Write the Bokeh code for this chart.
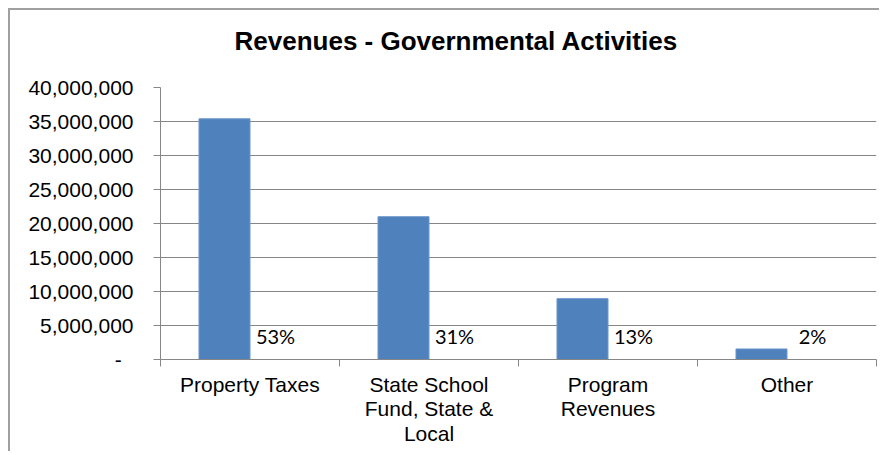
from bokeh.plotting import figure
from bokeh.models import Range1d, FixedTicker, NumeralTickFormatter, ColumnDataSource, Title
from bokeh.core.properties import value
from bokeh.embed import file_html
from bokeh.resources import INLINE

# ---- data ----
categories = ["Property Taxes", "State School\nFund, State &\nLocal", "Program\nRevenues", "Other"]
revenues = [35_400_000, 21_000_000, 8_950_000, 1_550_000]
shares = ["53%", "31%", "13%", "2%"]
y_ticks = [0, 5_000_000, 10_000_000, 15_000_000, 20_000_000, 25_000_000, 30_000_000, 35_000_000, 40_000_000]
title_text = "Revenues - Governmental Activities"

n = len(categories)
centers = [i + 0.5 for i in range(n)]
bar_w = 0.285

src = ColumnDataSource(dict(
    x=[c - bar_w / 2 for c in centers],
    top=revenues,
    lx=[c + bar_w / 2 for c in centers],
    ly=[0] * n,
    label=shares,
))

GRAY = "#868686"

p = figure(width=871, height=443,
           x_range=Range1d(0, n), y_range=Range1d(y_ticks[0], y_ticks[-1]),
           output_backend="svg", toolbar_location=None,
           min_border_left=150, min_border_right=5, min_border_top=77, min_border_bottom=94,
           styles={"margin-left": "8px", "margin-top": "8px",
                   "border-left": "2px solid #a0a0a0", "border-top": "2px solid #a0a0a0"})

p.vbar(x="x", top="top", bottom=0, width=bar_w, source=src,
       fill_color="#4F81BD", line_color="#6d98cc", line_width=1)

p.text(x="lx", y="ly", text="label", source=src, text_font=value("Lato"),
       text_font_size="20px", text_align="center", text_baseline="alphabetic",
       text_color="black", y_offset=-24)

# spacer between title and plot area
p.add_layout(Title(text=" ", text_font_size="2px", standoff=28), "above")

# title
p.title.text = title_text
p.title.text_font = "Liberation Sans"
p.title.text_font_style = "bold"
p.title.text_font_size = "26px"
p.title.text_color = "black"
p.title.align = "left"
p.title.offset = 74
p.title.standoff = 0

# y axis
p.yaxis.ticker = FixedTicker(ticks=y_ticks)
p.yaxis.formatter = NumeralTickFormatter(format="0,0")
p.yaxis.major_label_overrides = {0: "-\u00a0\u00a0"}
p.yaxis.axis_line_color = GRAY
p.yaxis.major_tick_line_color = GRAY
p.yaxis.major_tick_out = 7
p.yaxis.major_tick_in = 0
p.yaxis.minor_tick_line_color = None
p.yaxis.major_label_standoff = 20

# x axis
p.xaxis.ticker = FixedTicker(ticks=centers, minor_ticks=[float(i) for i in range(n + 1)])
p.xaxis.major_label_overrides = {c: lab for c, lab in zip(centers, categories)}
p.xaxis.axis_line_color = GRAY
p.xaxis.major_tick_line_color = None
p.xaxis.major_tick_out = 0
p.xaxis.major_tick_in = 0
p.xaxis.minor_tick_line_color = GRAY
p.xaxis.minor_tick_out = 7
p.xaxis.minor_tick_in = 0
p.xaxis.major_label_standoff = 6
p.xaxis.major_label_text_line_height = 1.07

for ax in (p.xaxis, p.yaxis):
    ax.major_label_text_font = "Liberation Sans"
    ax.major_label_text_font_size = "21px"
    ax.major_label_text_color = "black"

p.xgrid.visible = False
p.ygrid.grid_line_color = GRAY
p.ygrid.grid_line_width = 1
p.outline_line_color = None
p.background_fill_color = "white"
p.border_fill_color = "white"

open("out.html", "w").write(file_html(p, INLINE))
